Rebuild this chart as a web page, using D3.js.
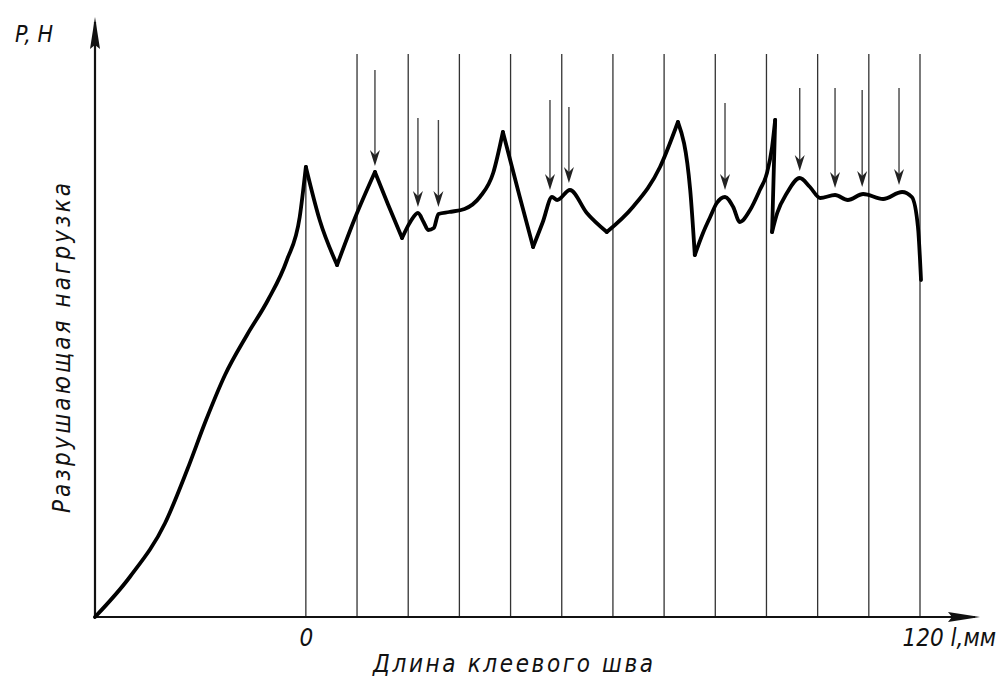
<!doctype html>
<html lang="ru">
<head>
  <meta charset="utf-8">
  <title>Разрушающая нагрузка по длине клеевого шва</title>
</head>

<style>
  body {
    margin: 0;
    background: #fff;
  }
  text {
    font-family: "DejaVu Sans Condensed", "Liberation Sans Narrow", "DejaVu Sans", sans-serif;
    font-style: italic;
    fill: #111;
  }
</style>

<body>

  <script src="https://cdn.jsdelivr.net/npm/d3@7"></script>

  <svg xmlns="http://www.w3.org/2000/svg"></svg>

  <script>

    // seam length l (mm) and load P (arbitrary units) along the recorded curve
    var curveL = [-41.2, -34.4, -27.5, -23.2, -19.5, -15.8, -11.5, -7.4, -3.7, -1.2, 0,
                  2.7, 6.1, 9.6, 13.5, 16.1, 18.8, 20.4, 21.9, 23.0, 23.9, 25.0, 25.9, 28.0, 31.0,
                  34.0, 36.6, 38.5, 41.8, 44.4, 46.3, 48.1, 49.1, 51.6, 54.9, 58.8, 63.9, 69.2, 72.7,
                  75.1, 76.0, 77.6, 79.0, 80.3, 81.9, 83.5, 84.8, 86.8, 88.7, 90.1, 91.1, 91.7, 91.1,
                  92.1, 94.0, 96.5, 98.5, 100.5, 103.4, 105.9, 108.9, 112.8, 116.5, 118.4, 119.6, 120.2];
    var curveP = [0, 8, 18.8, 29.4, 39.4, 48.4, 56.4, 63.4, 71.4, 80, 90,
                  79.4, 70.4, 79.8, 89, 82.4, 75.8, 79, 80.8, 79, 77.4, 77.8, 80.6, 81, 81.6,
                  84, 88.8, 97, 84, 74, 79, 84, 83.4, 85.4, 80.8, 77, 82, 90, 99,
                  85.4, 72.4, 76.8, 80, 82.8, 84, 82, 79, 81.4, 85.4, 88.8, 94, 99.4, 77,
                  80.8, 84.8, 87.8, 86, 83.8, 84.4, 83.4, 84.6, 83.6, 85, 84, 78, 67.4];
    // indices where the curve breaks sharply (peaks / troughs)
    var cusps = [10, 12, 14, 16, 27, 29, 35, 38, 40, 51, 52];

    // vertical lines every 10 mm
    var gridL = [0, 10, 20, 30, 40, 50, 60, 70, 80, 90, 100, 110, 120];
    var gridTop = [90, 112.6, 112.6, 112.6, 112.6, 112.6, 112.6, 112.6, 112.6, 112.6, 112.6, 112.6, 112.6];

    // failure arrows
    var arrowL = [13.5, 21.9, 25.9, 47.7, 51.4, 81.9, 96.5, 103.4, 108.7, 115.9];
    var arrowTop = [109.4, 99.8, 99.4, 103.4, 102, 102.8, 105.8, 105.8, 105.4, 105.8];
    var arrowTip = [90.2, 82, 82, 85.4, 86.8, 85.4, 89.2, 85.8, 86, 86.4];

    var xTicks = [0, 120];

    var svg = d3.select("svg")
      .attr("width", 1008)
      .attr("height", 685);

    var x = d3.scaleLinear().domain([-41.2, 120]).range([95, 920]);
    var y = d3.scaleLinear().domain([0, 120]).range([617, 17]);

    // grid lines
    svg.append("g")
      .selectAll("line")
      .data(gridL)
      .enter().append("line")
      .attr("x1", d => x(d))
      .attr("x2", d => x(d))
      .attr("y1", y(0))
      .attr("y2", (d, i) => y(gridTop[i]))
      .attr("stroke", "#333")
      .attr("stroke-width", 1.3);

    // axes
    svg.append("line")
      .attr("x1", x(-41.2)).attr("y1", y(0))
      .attr("x2", 975).attr("y2", y(0))
      .attr("stroke", "#111").attr("stroke-width", 2.2);
    svg.append("line")
      .attr("x1", x(-41.2)).attr("y1", y(0))
      .attr("x2", x(-41.2)).attr("y2", y(120) + 5)
      .attr("stroke", "#111").attr("stroke-width", 2.2);

    svg.append("path")
      .attr("d", "M980," + y(0) + "L948," + (y(0) - 5) + "L952," + y(0) + "L948," + (y(0) + 5) + "Z")
      .attr("fill", "#111");
    svg.append("path")
      .attr("d", "M" + x(-41.2) + "," + y(120) + "L" + (x(-41.2) - 5) + "," + (y(120) + 32) +
                 "L" + x(-41.2) + "," + (y(120) + 28) + "L" + (x(-41.2) + 5) + "," + (y(120) + 32) + "Z")
      .attr("fill", "#111");

    var xAxis = svg.append("g")
      .attr("transform", "translate(0," + y(0) + ")")
      .call(d3.axisBottom(x).tickValues(xTicks).tickSize(0).tickPadding(12));
    xAxis.select(".domain").remove();
    xAxis.selectAll("text")
      .style("font-size", "24px")
      .attr("font-family", null)
      .attr("dy", "0.71em");
    xAxis.selectAll("text")
      .filter(d => d == 120)
      .attr("text-anchor", "start")
      .attr("dx", "-18px")
      .text("120  l,мм");

    // curve, drawn piece by piece between the sharp points
    var pts = curveL.map((d, i) => [d, curveP[i]]);
    var line = d3.line()
      .x(d => x(d[0]))
      .y(d => y(d[1]))
      .curve(d3.curveMonotoneX);

    var breaks = [0].concat(cusps).concat([pts.length - 1]);
    for (var b = 0; b < breaks.length - 1; b++) {
      svg.append("path")
        .datum(pts.slice(breaks[b], breaks[b + 1] + 1))
        .attr("d", line)
        .attr("fill", "none")
        .attr("stroke", "#000")
        .attr("stroke-width", 3.8)
        .attr("stroke-linejoin", "round")
        .attr("stroke-linecap", "round");
    }

    // arrows
    var arrows = svg.append("g");
    arrowL.forEach(function(l, i) {
      var ax = x(l), top = y(arrowTop[i]), tip = y(arrowTip[i]);
      arrows.append("line")
        .attr("x1", ax).attr("x2", ax)
        .attr("y1", top).attr("y2", tip - 6)
        .attr("stroke", "#444")
        .attr("stroke-width", 1.4);
      arrows.append("path")
        .attr("d", "M" + ax + "," + tip + "L" + (ax - 5) + "," + (tip - 16) +
                   "L" + ax + "," + (tip - 11) + "L" + (ax + 5) + "," + (tip - 16) + "Z")
        .attr("fill", "#222");
    });

    // labels
    svg.append("text")
      .attr("x", 15)
      .attr("y", 42)
      .style("font-size", "23px")
      .text("P, H");

    svg.append("text")
      .attr("x", 373)
      .attr("y", 672)
      .attr("textLength", 280)
      .attr("lengthAdjust", "spacing")
      .style("font-size", "24px")
      .text("Длина клеевого шва");

    svg.append("text")
      .attr("transform", "translate(70,513) rotate(-90)")
      .attr("textLength", 330)
      .attr("lengthAdjust", "spacing")
      .style("font-size", "24px")
      .text("Разрушающая нагрузка");

  </script>
</body>
</html>
